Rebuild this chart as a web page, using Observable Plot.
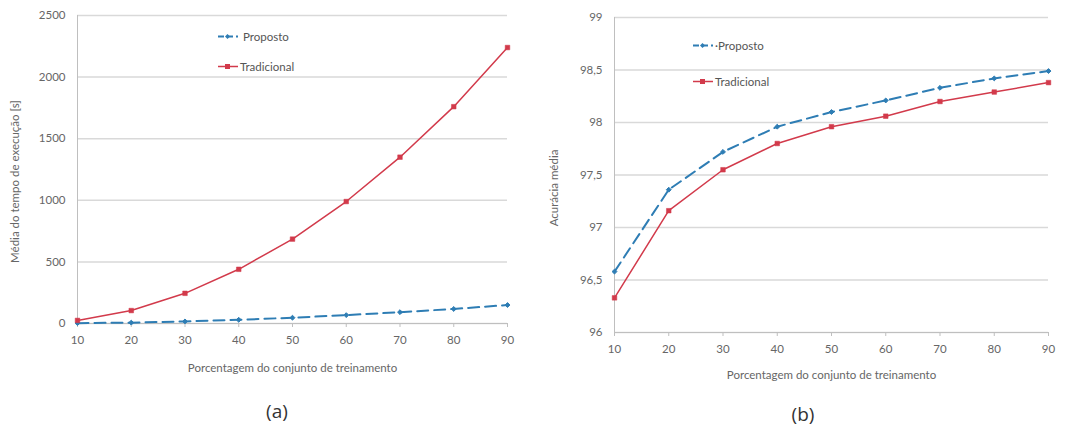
<!DOCTYPE html>
<html>
<head>
<meta charset="utf-8">
<script src="https://cdn.jsdelivr.net/npm/d3@7"></script>
<script src="https://cdn.jsdelivr.net/npm/@observablehq/plot@0.6"></script>
<style>
  html, body { margin: 0; padding: 0; background: #fff; }
  #root { position: relative; width: 1075px; height: 437px; font-family: Lato, "Open Sans", sans-serif; color: #666; }
  .panel { position: absolute; top: 0; }
  .legend { position: absolute; font-size: 11.5px; color: #555; display: flex; align-items: center; gap: 2px; white-space: nowrap; }
  .caption { position: absolute; font-size: 19px; color: #333; transform: translate(-50%, -50%); font-family: "Open Sans", sans-serif; }
</style>
</head>
<body>
<div id="root"></div>
<script>
// ---- data ----
const trainingPct = [10, 20, 30, 40, 50, 60, 70, 80, 90];
const timeProposto = [3, 7, 17, 30, 47, 68, 92, 118, 150];
const timeTradicional = [25, 105, 245, 440, 685, 990, 1350, 1760, 2240];
const accProposto = [96.58, 97.36, 97.72, 97.96, 98.10, 98.21, 98.33, 98.42, 98.49];
const accTradicional = [96.33, 97.16, 97.55, 97.80, 97.96, 98.06, 98.20, 98.29, 98.38];
const timeTicks = [0, 500, 1000, 1500, 2000, 2500];
const accTicks = [96, 96.5, 97, 97.5, 98, 98.5, 99];
const seriesNames = ["Proposto", "Tradicional"];
const xTitle = "Porcentagem do conjunto de treinamento";
const yTitleA = "Média do tempo de execução [s]";
const yTitleB = "Acurácia média";

const BLUE = "#2e7db4";
const RED = "#d23a4b";
const GRID = "#d9d9d9";
const AXIS = "#bfbfbf";

function rows(vals) { return trainingPct.map((x, i) => ({x, y: vals[i]})); }

function panel({w, h, ml, mr, mt, mb, domain, ticks, fmt, prop, trad, yTitle, xLabelOffset, yTitleDx, yTitleDy}) {
  const P = rows(prop), T = rows(trad);
  return Plot.plot({
    width: w, height: h,
    marginLeft: ml, marginRight: mr, marginTop: mt, marginBottom: mb,
    style: {fontFamily: "Lato, 'Open Sans', sans-serif", fontSize: "11.5px", color: "#666", background: "transparent"},
    x: {domain: [10, 90]},
    y: {domain},
    marks: [
      Plot.gridY(ticks, {stroke: GRID, strokeOpacity: 1, strokeWidth: 1.5}),
      Plot.ruleX([10], {stroke: AXIS, strokeWidth: 1}),
      Plot.ruleY([domain[0]], {stroke: AXIS, strokeWidth: 1.2}),
      Plot.axisX(trainingPct, {tickSize: 4, tickPadding: 8, stroke: AXIS, label: xTitle, labelAnchor: "center", labelOffset: xLabelOffset, labelArrow: "none", tickFormat: d => String(d), fill: "#666"}),
      Plot.axisY(ticks, {tickSize: 0, tickPadding: 12, label: null, tickFormat: fmt, fill: "#666"}),
      Plot.text([yTitle], {frameAnchor: "left", rotate: -90, dx: -yTitleDx, dy: yTitleDy, fill: "#666", textAnchor: "middle"}),
      Plot.line(P, {x: "x", y: "y", stroke: BLUE, strokeWidth: 2, strokeDasharray: "11,6"}),
      Plot.line(T, {x: "x", y: "y", stroke: RED, strokeWidth: 1.5}),
      Plot.dot(P, {x: "x", y: "y", symbol: "diamond2", r: 2.2, fill: BLUE, stroke: BLUE, strokeWidth: 1}),
      Plot.dot(T, {x: "x", y: "y", symbol: "square", r: 2.6, fill: RED, stroke: RED, strokeWidth: 0.5})
    ]
  });
}

const root = document.getElementById("root");

const a = panel({w: 535, h: 390, ml: 77, mr: 28, mt: 15, mb: 67, domain: [0, 2500], ticks: timeTicks,
  fmt: d => String(d), prop: timeProposto, trad: timeTradicional, yTitle: yTitleA, xLabelOffset: 48, yTitleDx: 62, yTitleDy: 12});
const divA = document.createElement("div"); divA.className = "panel"; divA.style.left = "0px"; divA.appendChild(a); root.appendChild(divA);

const b = panel({w: 540, h: 395, ml: 79, mr: 27, mt: 17, mb: 63, domain: [96, 99], ticks: accTicks,
  fmt: d => String(d).replace(".", ","), prop: accProposto, trad: accTradicional, yTitle: yTitleB, xLabelOffset: 46, yTitleDx: 60, yTitleDy: 13});
const divB = document.createElement("div"); divB.className = "panel"; divB.style.left = "535px"; divB.appendChild(b); root.appendChild(divB);

function legendItem(left, top, name, color, dashed, square, prefix) {
  const d = document.createElement("div");
  d.className = "legend";
  d.style.left = left + "px"; d.style.top = (top - 8) + "px";
  const sym = square
    ? `<rect x="7" y="3" width="5" height="5" fill="${color}"/>`
    : `<path d="M9.5,3 L12,5.5 L9.5,8 L7,5.5Z" fill="${color}"/>`;
  d.innerHTML = `<svg width="20" height="11" style="display:block"><line x1="0" x2="20" y1="5.5" y2="5.5" stroke="${color}" stroke-width="${dashed ? 2 : 1.5}" ${dashed ? 'stroke-dasharray="6,3"' : ''}/>${sym}</svg><span>${prefix}${name}</span>`;
  root.appendChild(d);
}
legendItem(218, 38, seriesNames[0], BLUE, true, false, "&nbsp;");
legendItem(218, 68, seriesNames[1], RED, false, true, "");
legendItem(693, 47, seriesNames[0], BLUE, true, false, "·");
legendItem(693, 83, seriesNames[1], RED, false, true, "");

function caption(x, y, t) {
  const c = document.createElement("div"); c.className = "caption";
  c.style.left = x + "px"; c.style.top = y + "px"; c.textContent = t; root.appendChild(c);
}
caption(277, 411, "(a)");
caption(803, 414, "(b)");
</script>
</body>
</html>
